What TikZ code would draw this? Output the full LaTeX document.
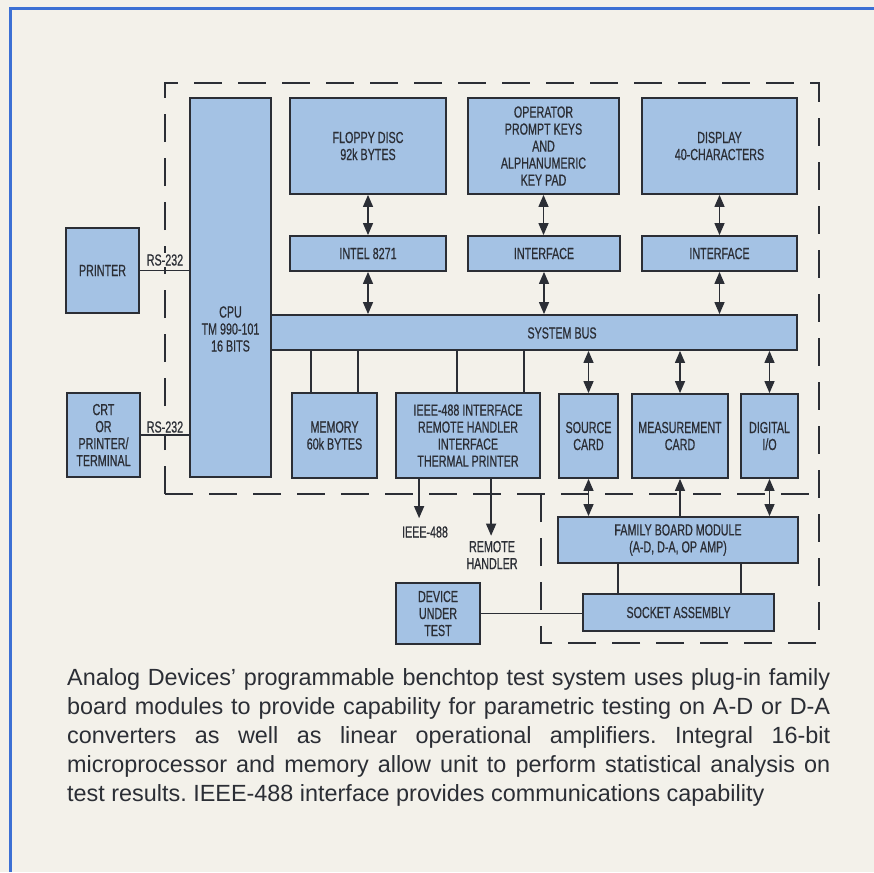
\documentclass[tikz,border=0pt]{standalone}
\usepackage{fontspec}
\setmainfont{Liberation Sans}
\newfontfamily\condfont[FakeStretch=0.67,FakeBold=0.6]{Liberation Sans}
\usetikzlibrary{arrows.meta,calc}
\definecolor{paper}{HTML}{F3F1EA}
\definecolor{boxfill}{HTML}{A4C2E4}
\definecolor{ink}{HTML}{2B2E35}
\definecolor{frameblue}{HTML}{3C70D4}
\begin{document}
\frenchspacing
\begin{tikzpicture}[x=1pt,y=-1pt,
  blk/.style={draw=ink, line width=1.8pt, fill=boxfill, inner sep=0pt, text=ink, align=center,
    font=\condfont\fontsize{16}{17}\selectfont},
  lbl/.style={inner sep=0pt, text=ink, align=center, font=\condfont\fontsize{16}{17}\selectfont},
  conn/.style={draw=ink, line width=1.3pt},
  dbl/.style={conn, {Triangle[length=12pt,width=10pt]}-{Triangle[length=12pt,width=10pt]}},
  sgl/.style={conn, -{Triangle[length=12pt,width=10pt]}},
  dashframe/.style={draw=ink, line width=1.8pt, dash pattern=on 28pt off 16pt},
]
\useasboundingbox (0,0) rectangle (874,872);
\fill[paper] (0,0) rectangle (874,872);
\draw[frameblue, line width=3pt] (874,9) -- (10,9) -- (10,872);

% dashed enclosures
\draw[dashframe] (165,494) -- (165,83) -- (819,83) -- (819,643) -- (541,643) -- (541,494);
\draw[dashframe] (165,494) -- (819,494);

% blocks
\node[blk, minimum width=73pt, minimum height=85pt] (printer) at (102.5,270.5) {PRINTER};
\node[blk, minimum width=73pt, minimum height=84pt] (crt) at (103.5,435) {CRT\\OR\\PRINTER/\\TERMINAL};
\node[blk, minimum width=81pt, minimum height=379pt] (cpu) at (230.5,287.5) {};
\node[lbl] (cputext) at (230.5,329) {CPU\\TM 990-101\\16 BITS};
\node[blk, minimum width=156pt, minimum height=96pt] (floppy) at (368,146) {FLOPPY DISC\\92k BYTES};
\node[blk, minimum width=156pt, minimum height=35pt] (intel) at (368,253.5) {INTEL 8271};
\node[blk, minimum width=151pt, minimum height=96pt] (operator) at (543.5,146) {OPERATOR\\PROMPT KEYS\\AND\\ALPHANUMERIC\\KEY PAD};
\node[blk, minimum width=152pt, minimum height=35pt] (iface1) at (544,253.5) {INTERFACE};
\node[blk, minimum width=155pt, minimum height=96pt] (display) at (719.5,146) {DISPLAY\\40-CHARACTERS};
\node[blk, minimum width=155pt, minimum height=35pt] (iface2) at (719.5,253.5) {INTERFACE};
\node[blk, minimum width=526pt, minimum height=35pt] (bus) at (534,332.5) {};
\node[lbl] (bustext) at (562,333) {SYSTEM BUS};
\node[blk, minimum width=85pt, minimum height=85pt] (memory) at (334.5,435.5) {MEMORY\\60k BYTES};
\node[blk, minimum width=144pt, minimum height=85pt] (ieee) at (468,435.5) {IEEE-488 INTERFACE\\REMOTE HANDLER\\INTERFACE\\THERMAL PRINTER};
\node[blk, minimum width=59pt, minimum height=84pt] (source) at (588.5,436) {SOURCE\\CARD};
\node[blk, minimum width=96pt, minimum height=84pt] (meas) at (680,436) {MEASUREMENT\\CARD};
\node[blk, minimum width=57pt, minimum height=84pt] (digital) at (769.5,436) {DIGITAL\\I/O};
\node[blk, minimum width=240pt, minimum height=46pt] (family) at (678,540) {FAMILY BOARD MODULE\\(A-D, D-A, OP AMP)};
\node[blk, minimum width=191pt, minimum height=37pt] (socket) at (678.5,612.5) {SOCKET ASSEMBLY};
\node[blk, minimum width=84pt, minimum height=61pt] (device) at (438,613.5) {DEVICE\\UNDER\\TEST};

% labels
\node[lbl, fill=paper, inner sep=1.5pt] (rs1) at (165,260) {RS-232};
\node[lbl, fill=paper, inner sep=1.5pt] (rs2) at (165,427) {RS-232};
\node[lbl] (ieeelbl) at (425,532) {IEEE-488};
\node[lbl] (remotelbl) at (492,555) {REMOTE\\HANDLER};

% serial links
\draw[conn] (printer.east) -- (printer.east -| cpu.west);
\draw[conn] (crt.east) -- (crt.east -| cpu.west);

% top row arrows
\draw[dbl] (floppy.south) -- (intel.north);
\draw[dbl] (intel.south) -- (intel.south |- bus.north);
\draw[dbl] (operator.south) -- (operator.south |- iface1.north);
\draw[dbl] (iface1.south) -- (iface1.south |- bus.north);
\draw[dbl] (display.south) -- (iface2.north);
\draw[dbl] (iface2.south) -- (iface2.south |- bus.north);

% bus to lower blocks
\draw[conn] ([xshift=20pt]memory.north west) -- ([xshift=20pt]memory.north west |- bus.south);
\draw[conn] ([xshift=-20pt]memory.north east) -- ([xshift=-20pt]memory.north east |- bus.south);
\draw[conn] ([xshift=62pt]ieee.north west) -- ([xshift=62pt]ieee.north west |- bus.south);
\draw[conn] ([xshift=-17pt]ieee.north east) -- ([xshift=-17pt]ieee.north east |- bus.south);
\draw[dbl] (source.north) -- (source.north |- bus.south);
\draw[dbl] (meas.north) -- (meas.north |- bus.south);
\draw[dbl] (digital.north) -- (digital.north |- bus.south);

% ieee outputs
\draw[sgl, shorten >=8pt] ([xshift=24pt]ieee.south west) -- ([xshift=24pt]ieee.south west |- ieeelbl.north);
\draw[sgl, shorten >=5pt] ([xshift=96pt]ieee.south west) -- ([xshift=96pt]ieee.south west |- remotelbl.north);

% cards to family board
\draw[dbl] (source.south) -- (source.south |- family.north);
\draw[sgl] (meas.south |- family.north) -- (meas.south);
\draw[dbl] (digital.south) -- (digital.south |- family.north);

% family to socket
\draw[conn] ([xshift=36pt]socket.north west) -- ([xshift=36pt]socket.north west |- family.south);
\draw[conn] ([xshift=-34pt]socket.north east) -- ([xshift=-34pt]socket.north east |- family.south);
\draw[conn] (device.east) -- (device.east -| socket.west);

% caption
\node[anchor=north west, inner sep=0pt, text=ink, align=left,
  font=\fontsize{23.4}{29}\selectfont] (caption) at (67,668) {%
\makebox[763pt][s]{Analog Devices' programmable benchtop test system uses plug-in family}\\
\makebox[763pt][s]{board modules to provide capability for parametric testing on A-D or D-A}\\
\makebox[763pt][s]{converters as well as linear operational amplifiers. Integral 16-bit}\\
\makebox[763pt][s]{microprocessor and memory allow unit to perform statistical analysis on}\\
test results. IEEE-488 interface provides communications capability};
\end{tikzpicture}
\end{document}
